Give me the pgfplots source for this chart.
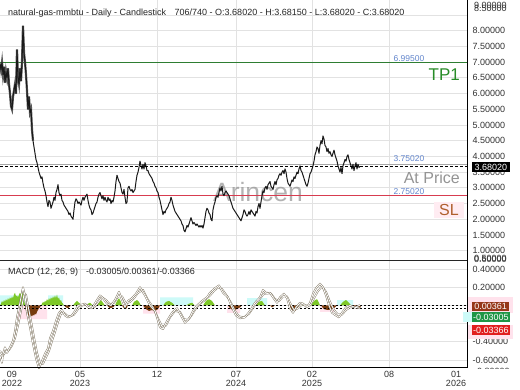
\documentclass[border=0pt]{standalone}
\usepackage{pgfplots}
\usepackage{pgfplotstable}
\pgfplotsset{compat=1.18}
\usepackage{fontspec}
\setmainfont{Liberation Sans}
\definecolor{gridc}{RGB}{226,226,226}
\definecolor{tpgreen}{RGB}{46,125,50}
\definecolor{tpgreentext}{RGB}{40,140,40}
\definecolor{lblblue}{RGB}{100,135,205}
\definecolor{slred}{RGB}{215,60,80}
\definecolor{slbrown}{RGB}{175,95,45}
\definecolor{slbg}{RGB}{255,236,242}
\definecolor{histgreen}{RGB}{125,200,40}
\definecolor{histbrown}{RGB}{120,60,15}
\definecolor{bgcyan}{RGB}{205,250,248}
\definecolor{bgpink}{RGB}{255,226,236}
\definecolor{macdline}{RGB}{125,115,95}
\definecolor{boxbrown}{RGB}{150,55,25}
\definecolor{boxgreen}{RGB}{30,150,70}
\definecolor{boxred}{RGB}{225,30,30}
\newcommand{\fs}[1]{\fontsize{#1bp}{#1bp}\selectfont}

\pgfplotstableread{
x v
0 6.95
1 6.75
2 7.00
3 6.60
4 6.85
5 6.35
6 6.70
7 6.50
8 6.80
9 6.30
10 6.00
11 5.60
12 5.50
13 5.90
14 6.10
15 6.30
16 6.00
17 7.40
18 6.50
19 6.30
20 6.80
21 6.40
22 7.00
23 8.15
24 7.30
25 7.00
26 6.60
27 6.10
28 5.50
29 5.90
30 5.40
31 5.50
32 4.85
33 4.50
34 4.30
35 4.10
36 3.90
37 3.80
38 3.65
39 3.50
40 3.40
41 3.30
42 3.35
43 3.15
44 3.00
45 2.90
46 2.75
47 2.55
48 2.40
49 2.60
50 2.55
51 2.35
52 2.45
53 2.55
54 2.70
55 2.60
56 2.85
57 2.95
58 3.10
59 2.85
60 2.75
61 2.80
62 2.60
63 2.55
64 2.45
65 2.40
66 2.35
67 2.30
68 2.25
69 2.15
70 2.20
71 2.10
72 2.05
73 2.00
74 2.30
75 2.55
76 2.65
77 2.60
78 2.50
79 2.55
80 2.50
81 2.45
82 2.60
83 2.70
84 2.60
85 2.70
86 2.75
87 2.80
88 2.60
89 2.45
90 2.35
91 2.30
92 2.15
93 2.20
94 2.30
95 2.40
96 2.50
97 2.55
98 2.70
99 2.80
100 2.85
101 2.75
102 2.65
103 2.75
104 2.60
105 2.70
106 2.60
107 2.55
108 2.70
109 2.60
110 2.65
111 2.50
112 2.60
113 2.55
114 2.70
115 2.90
116 3.20
117 3.40
118 3.30
119 3.20
120 3.15
121 3.00
122 2.85
123 2.80
124 2.95
125 2.70
126 2.50
127 2.55
128 3.00
129 3.05
130 2.95
131 2.90
132 2.95
133 2.85
134 2.90
135 2.95
136 3.20
137 3.40
138 3.50
139 3.65
140 3.85
141 3.70
142 3.60
143 3.75
144 3.60
145 3.80
146 3.70
147 3.55
148 3.55
149 3.45
150 3.40
151 3.35
152 3.30
153 3.20
154 3.15
155 3.05
156 3.00
157 2.90
158 2.85
159 2.70
160 2.60
161 2.45
162 2.30
163 2.15
164 2.25
165 2.20
166 2.30
167 2.35
168 2.40
169 2.50
170 2.55
171 2.70
172 2.60
173 2.45
174 2.35
175 2.25
176 2.20
177 2.15
178 2.10
179 2.05
180 2.00
181 1.95
182 1.85
183 1.80
184 1.65
185 1.60
186 1.70
187 1.80
188 1.75
189 1.85
190 1.95
191 2.05
192 1.95
193 1.85
194 1.90
195 1.85
196 1.80
197 1.85
198 1.80
199 1.75
200 1.80
201 1.75
202 1.80
203 1.72
204 1.85
205 2.05
206 2.25
207 2.35
208 2.30
209 2.20
210 2.15
211 2.00
212 1.95
213 2.30
214 2.45
215 2.55
216 2.70
217 2.75
218 2.70
219 2.85
220 3.00
221 2.90
222 3.05
223 2.80
224 2.75
225 2.85
226 2.90
227 2.85
228 2.80
229 2.75
230 2.65
231 2.55
232 2.45
233 2.35
234 2.30
235 2.25
236 2.20
237 2.15
238 2.10
239 2.05
240 2.00
241 1.95
242 2.05
243 2.15
244 2.30
245 2.25
246 2.15
247 2.10
248 2.15
249 2.25
250 2.15
251 2.30
252 2.25
253 2.20
254 2.15
255 2.10
256 2.25
257 2.20
258 2.40
259 2.50
260 2.35
261 2.55
262 2.75
263 2.90
264 2.85
265 3.00
266 3.05
267 2.95
268 3.10
269 3.15
270 3.20
271 3.05
272 3.00
273 2.95
274 3.10
275 3.20
276 3.10
277 3.25
278 3.30
279 3.40
280 3.45
281 3.40
282 3.50
283 3.55
284 3.45
285 3.60
286 3.50
287 3.30
288 3.15
289 3.10
290 3.05
291 3.15
292 3.25
293 3.20
294 3.35
295 3.30
296 3.40
297 3.50
298 3.45
299 3.60
300 3.70
301 3.55
302 3.50
303 3.40
304 3.30
305 3.20
306 3.10
307 3.05
308 3.15
309 3.30
310 3.45
311 3.50
312 3.60
313 3.70
314 3.85
315 4.05
316 4.15
317 4.30
318 4.25
319 4.10
320 4.35
321 4.50
322 4.40
323 4.65
324 4.55
325 4.35
326 4.30
327 4.15
328 4.25
329 4.10
330 4.15
331 4.05
332 4.00
333 4.10
334 4.20
335 4.05
336 3.95
337 3.85
338 3.70
339 3.60
340 3.50
341 3.65
342 3.45
343 3.70
344 3.80
345 3.90
346 3.85
347 4.00
348 4.05
349 3.90
350 3.80
351 3.70
352 3.60
353 3.75
354 3.55
355 3.70
356 3.80
357 3.60
358 3.75
359 3.65
360 3.68
}\pricetable

\pgfplotstableread{
x m
0 -0.55
2 -0.63
3 -0.53
5 -0.46
7 -0.52
8 -0.50
10 -0.46
13 -0.39
15 -0.28
17 -0.13
19 -0.02
21 0.09
23 0.20
25 0.11
27 -0.08
30 -0.24
33 -0.42
36 -0.58
39 -0.69
42 -0.61
45 -0.53
48 -0.47
50 -0.36
53 -0.28
56 -0.17
59 -0.08
62 -0.05
65 -0.11
68 -0.13
72 -0.11
75 -0.06
78 0.00
82 0.01
85 0.02
88 -0.02
92 -0.03
97 0.06
100 0.11
103 0.08
107 0.02
111 0.00
115 0.06
119 0.15
121 0.09
125 -0.02
128 0.05
132 0.08
136 0.13
140 0.20
145 0.11
150 0.00
155 -0.06
160 -0.24
163 -0.26
167 -0.17
172 -0.08
177 -0.03
182 -0.13
185 -0.19
190 -0.13
193 -0.06
197 0.00
202 0.05
207 0.09
210 0.14
215 0.19
219 0.22
223 0.14
228 0.09
232 -0.02
236 -0.11
240 -0.14
245 -0.13
250 -0.06
255 0.03
260 0.09
263 0.17
267 0.13
270 0.14
273 0.09
277 0.03
280 0.09
284 0.13
287 0.08
290 -0.03
293 -0.08
296 -0.02
300 0.03
303 0.02
307 -0.02
310 0.03
313 0.13
316 0.19
320 0.24
323 0.20
326 0.11
329 0.00
332 -0.08
336 -0.11
339 -0.13
342 -0.08
346 -0.02
350 0.00
355 -0.02
360 -0.03
}\macdtable

\pgfplotstableread{
x s
0 -0.50
3 -0.55
6 -0.50
9 -0.49
12 -0.44
15 -0.36
18 -0.22
21 -0.06
24 0.12
26 0.12
28 0.00
31 -0.17
34 -0.35
37 -0.52
40 -0.64
43 -0.64
46 -0.57
49 -0.50
52 -0.39
55 -0.29
58 -0.18
61 -0.09
64 -0.08
67 -0.11
70 -0.12
74 -0.10
78 -0.04
82 0.00
86 0.01
90 -0.01
94 -0.02
98 0.03
102 0.09
106 0.06
110 0.01
114 0.03
118 0.10
122 0.10
126 0.02
130 0.04
134 0.08
138 0.14
143 0.17
148 0.06
153 -0.02
158 -0.14
162 -0.23
166 -0.22
170 -0.13
175 -0.06
180 -0.07
184 -0.15
188 -0.16
192 -0.10
196 -0.03
200 0.02
205 0.06
210 0.11
214 0.16
218 0.20
222 0.18
226 0.12
231 0.03
235 -0.06
239 -0.12
244 -0.13
249 -0.09
254 -0.01
259 0.06
263 0.12
267 0.14
271 0.13
275 0.07
279 0.05
283 0.10
287 0.10
290 0.03
294 -0.05
298 -0.03
302 0.01
306 0.00
310 0.00
314 0.08
318 0.16
322 0.21
326 0.15
330 0.04
334 -0.05
338 -0.10
342 -0.10
346 -0.05
350 -0.02
355 -0.02
360 0.0036
}\signaltable

\begin{document}
\begin{tikzpicture}
\useasboundingbox (0,0) rectangle (520bp,390bp);
\fill[white] (0,0) rectangle (520bp,390bp);

% ---------------- price panel ----------------
\begin{axis}[
  at={(0bp,130bp)}, anchor=south west,
  scale only axis, width=467bp, height=260bp,
  xmin=0, xmax=467, ymin=0.704, ymax=8.977,
  axis line style={draw=none},
  clip mode=individual,
  major tick length=0pt,
  xtick={80,157,236,312,389}, xticklabels={,,,,},
  ytick={1,1.5,2,2.5,3,3.5,4,4.5,5,5.5,6,6.5,7,7.5,8,8.5},
  yticklabels={1.00000,1.50000,2.00000,2.50000,3.00000,3.50000,4.00000,4.50000,5.00000,5.50000,6.00000,6.50000,7.00000,7.50000,8.00000,{}},
  yticklabel pos=right,
  yticklabel style={font=\fs{9}, text=black!80, xshift=2bp},
  grid=major, grid style={draw=gridc, line width=0.8bp},
]
\node[font=\fs{26.5}, text=black!50, opacity=0.6] at (axis cs:258,2.852) {Arincen};
\addplot[tpgreen, line width=1bp] coordinates {(0,6.995)(467,6.995)};
\addplot[black!35, line width=1.5bp] coordinates {(0,3.7502)(467,3.7502)};
\addplot[slred, line width=1bp] coordinates {(0,2.7502)(467,2.7502)};
\addplot[black!65, line width=2.2bp, restrict x to domain=0:33] table[x=x,y=v]{\pricetable};
\addplot[black!90, line width=1bp, line join=round] table[x=x,y=v]{\pricetable};
\addplot[black, line width=0.9bp, dash pattern=on 3bp off 2bp] coordinates {(0,3.6802)(467,3.6802)};

\node[anchor=west, font=\fs{9}, text=black!85, inner sep=0pt] at (rel axis cs:0.0171,0.95)
  {natural-gas-mmbtu - Daily - Candlestick\hspace{6bp} 706/740 - O:3.68020 - H:3.68150 - L:3.68020 - C:3.68020};
\node[anchor=south, font=\fs{8.5}, text=lblblue, inner sep=1bp] at (axis cs:409,6.995) {6.99500};
\node[anchor=east, font=\fs{17}, text=tpgreentext, inner sep=0pt] at (axis cs:460,6.59) {TP1};
\node[anchor=south, font=\fs{8.5}, text=lblblue, inner sep=1bp, yshift=1bp] at (axis cs:409,3.7502) {3.75020};
\node[anchor=east, font=\fs{16}, text=black!42, inner sep=0pt] at (axis cs:460,3.313) {At Price};
\node[anchor=south, font=\fs{8.5}, text=lblblue, inner sep=1bp] at (axis cs:409,2.7502) {2.75020};
\node[anchor=east, font=\fs{16}, text=slbrown, fill=slbg, inner xsep=5bp, inner ysep=2bp] at (axis cs:464,2.295) {SL};
\end{axis}

% ---------------- MACD panel ----------------
\begin{axis}[
  at={(0bp,22bp)}, anchor=south west,
  scale only axis, width=467bp, height=107bp,
  xmin=0, xmax=467, ymin=-0.687, ymax=0.489,
  axis line style={draw=none},
  clip mode=individual,
  major tick length=0pt,
  xtick={80,157,236,312,389},
  xticklabels={{05\\2023},{12},{07\\2024},{02\\2025},{08}},
  extra x ticks={12,456},
  extra x tick labels={{09\\2022},{01\\2026}},
  extra x tick style={grid=none},
  xticklabel style={align=center, font=\fs{9}, text=black!80},
  ytick={-0.6,-0.4,-0.2,0,0.2,0.4},
  yticklabels={-0.60000,-0.40000,{},{},0.20000,0.40000},
  yticklabel pos=right,
  yticklabel style={font=\fs{9}, text=black!80, xshift=2bp},
  grid=major, grid style={draw=gridc, line width=0.8bp},
]
% background zones
\addplot[fill=bgcyan, draw=none] coordinates {(0,0)(0,0.11)(27,0.11)(27,0)} \closedcycle;
\addplot[fill=bgcyan, draw=none] coordinates {(48,0)(48,0.11)(63,0.11)(63,0)} \closedcycle;
\addplot[fill=bgcyan, draw=none] coordinates {(160,0)(160,0.09)(193,0.09)(193,0)} \closedcycle;
\addplot[fill=bgcyan, draw=none] coordinates {(247,0)(247,0.08)(267,0.08)(267,0)} \closedcycle;
\addplot[fill=bgcyan, draw=none] coordinates {(337,0)(337,0.06)(353,0.06)(353,0)} \closedcycle;
\addplot[fill=bgpink, draw=none] coordinates {(18,0)(18,-0.15)(47,-0.15)(47,0)} \closedcycle;
\addplot[fill=bgpink, draw=none] coordinates {(143,0)(143,-0.09)(160,-0.09)(160,0)} \closedcycle;
\addplot[fill=bgpink, draw=none] coordinates {(227,0)(227,-0.08)(240,-0.08)(240,0)} \closedcycle;
\addplot[fill=bgpink, draw=none] coordinates {(320,0)(320,-0.07)(335,-0.07)(335,0)} \closedcycle;
% histogram
\addplot[fill=histgreen, draw=none] coordinates {(0,0)(1,0.02)(2,0.05)(3,0.03)(4,0.06)(5,0.04)(6,0.07)(7,0.05)(8,0.08)(9,0.06)(10,0.09)(11,0.07)(12,0.10)(13,0.08)(14,0.12)(15,0.14)(16,0.10)(17,0.11)(18,0.09)(19,0.12)(20,0.14)(21,0.12)(22,0.16)(23,0.17)(24,0.08)(25,0)} \closedcycle;
\addplot[fill=histbrown, draw=none] coordinates {(25,0)(26,-0.06)(27,-0.10)(28,-0.12)(29,-0.10)(30,-0.13)(31,-0.11)(32,-0.12)(33,-0.10)(34,-0.11)(35,-0.09)(36,-0.10)(37,-0.07)(38,-0.05)(39,-0.03)(40,-0.02)(41,0)} \closedcycle;
\addplot[fill=histgreen, draw=none] coordinates {(41,0)(42,0.02)(43,0.04)(44,0.03)(45,0.05)(46,0.04)(47,0.07)(48,0.05)(49,0.08)(50,0.06)(51,0.09)(52,0.07)(53,0.10)(54,0.08)(55,0.11)(56,0.08)(57,0.12)(58,0.07)(59,0.09)(60,0.05)(61,0.06)(62,0.03)(63,0.02)(64,0)} \closedcycle;
\addplot[fill=histbrown, draw=none] coordinates {(64,0)(66,-0.02)(68,-0.03)(70,-0.01)(71,0)} \closedcycle;
\addplot[fill=histgreen, draw=none] coordinates {(73,0)(75,0.03)(77,0.05)(79,0.03)(81,0.01)(82,0)} \closedcycle;
\addplot[fill=histgreen, draw=none] coordinates {(86,0)(88,0.02)(90,0.03)(92,0.01)(93,0)} \closedcycle;
\addplot[fill=histbrown, draw=none] coordinates {(93,0)(95,-0.02)(97,0)} \closedcycle;
\addplot[fill=histgreen, draw=none] coordinates {(97,0)(99,0.04)(101,0.06)(103,0.03)(105,0)} \closedcycle;
\addplot[fill=histbrown, draw=none] coordinates {(107,0)(110,-0.03)(113,-0.02)(115,0)} \closedcycle;
\addplot[fill=histgreen, draw=none] coordinates {(115,0)(117,0.05)(119,0.08)(121,0.04)(122,0)} \closedcycle;
\addplot[fill=histbrown, draw=none] coordinates {(122,0)(124,-0.03)(126,-0.04)(128,0)} \closedcycle;
\addplot[fill=histgreen, draw=none] coordinates {(132,0)(134,0.04)(137,0.06)(139,0.04)(141,0)} \closedcycle;
\addplot[fill=histbrown, draw=none] coordinates {(143,0)(146,-0.04)(149,-0.06)(152,-0.05)(155,-0.06)(158,-0.04)(160,0)} \closedcycle;
\addplot[fill=histgreen, draw=none] coordinates {(163,0)(166,0.04)(169,0.05)(172,0.03)(175,0)} \closedcycle;
\addplot[fill=histgreen, draw=none] coordinates {(186,0)(189,0.02)(192,0.03)(195,0)} \closedcycle;
\addplot[fill=histgreen, draw=none] coordinates {(203,0)(206,0.05)(209,0.07)(212,0.05)(215,0)} \closedcycle;
\addplot[fill=histbrown, draw=none] coordinates {(228,0)(231,-0.04)(234,-0.05)(237,-0.04)(240,-0.02)(242,0)} \closedcycle;
\addplot[fill=histgreen, draw=none] coordinates {(252,0)(255,0.03)(258,0.04)(262,0.05)(265,0)} \closedcycle;
\addplot[fill=histbrown, draw=none] coordinates {(270,0)(272,-0.02)(275,0)} \closedcycle;
\addplot[fill=histbrown, draw=none] coordinates {(289,0)(292,-0.05)(295,-0.06)(298,-0.02)(299,0)} \closedcycle;
\addplot[fill=histgreen, draw=none] coordinates {(300,0)(303,0.03)(306,0)} \closedcycle;
\addplot[fill=histgreen, draw=none] coordinates {(311,0)(314,0.05)(317,0.07)(319,0.03)(320,0)} \closedcycle;
\addplot[fill=histbrown, draw=none] coordinates {(321,0)(324,-0.04)(328,-0.05)(332,-0.04)(335,-0.02)(337,0)} \closedcycle;
\addplot[fill=histgreen, draw=none] coordinates {(340,0)(343,0.04)(346,0.06)(349,0.03)(351,0)} \closedcycle;
\addplot[fill=histbrown, draw=none] coordinates {(353,0)(356,-0.02)(358,-0.01)(360,-0.03)(361,0)} \closedcycle;
% reference dashed lines
\addplot[black, line width=0.9bp, dash pattern=on 2bp off 2bp] coordinates {(0,0.0036)(467,0.0036)};
\addplot[black, line width=0.9bp, dash pattern=on 2bp off 2bp] coordinates {(0,-0.030)(467,-0.030)};
% MACD and signal (hollow lines)
\addplot[draw=macdline, line width=0.45bp, double=white, double distance=0.8bp, line join=round] table[x=x,y=s]{\signaltable};
\addplot[draw=macdline, line width=0.45bp, double=white, double distance=0.8bp, line join=round] table[x=x,y=m]{\macdtable};
\node[anchor=west, font=\fs{9}, text=black!85, inner sep=0pt] at (rel axis cs:0.0171,0.897)
  {MACD (12, 26, 9)\hspace{8bp}-0.03005/0.00361/-0.03366};
\end{axis}

% frame lines
\draw[black, line width=1bp] (467bp,390bp) -- (467bp,22bp) -- (0bp,22bp);
\draw[black!85, line width=0.8bp] (0bp,129.5bp) -- (467bp,129.5bp);

% right-hand value boxes
\node[anchor=west, fill=black, text=white, font=\fs{9}, inner xsep=2.5bp, inner ysep=1.8bp] at (472bp,223bp) {3.68020};
\fill[bgpink] (468bp,77bp) rectangle (513bp,93bp);
\fill[bgpink] (468bp,51bp) rectangle (513bp,65bp);
\fill[bgcyan] (463bp,68bp) rectangle (473bp,78bp);
\node[anchor=west, fill=boxbrown, text=white, font=\fs{9}, inner xsep=1.5bp, inner ysep=1.5bp, minimum width=37bp] at (472bp,83.5bp) {0.00361};
\node[anchor=west, fill=boxgreen, text=white, font=\fs{9}, inner xsep=1bp, inner ysep=1.5bp, minimum width=37bp] at (472bp,73bp) {-0.03005};
\node[anchor=west, fill=boxred, text=white, font=\fs{9}, inner xsep=1bp, inner ysep=1.5bp, minimum width=37bp] at (472bp,60bp) {-0.03366};

% clamped edge labels
\node[anchor=west, font=\fs{9}, text=black!80, inner sep=0pt] at (474bp,385bp) {9.00000};
\node[anchor=west, font=\fs{9}, text=black!80, inner sep=0pt] at (474bp,381.5bp) {8.50000};
\node[anchor=west, font=\fs{9}, text=black!80, inner sep=0pt] at (474bp,132bp) {0.50000};
\node[anchor=west, font=\fs{9}, text=black!80, inner sep=0pt] at (474bp,131bp) {0.60000};
\begin{scope}
\clip (468bp,21bp) rectangle (520bp,30bp);
\node[anchor=west, font=\fs{9}, text=black!80, inner sep=0pt] at (474bp,18.5bp) {-0.80000};
\end{scope}
\end{tikzpicture}
\end{document}
